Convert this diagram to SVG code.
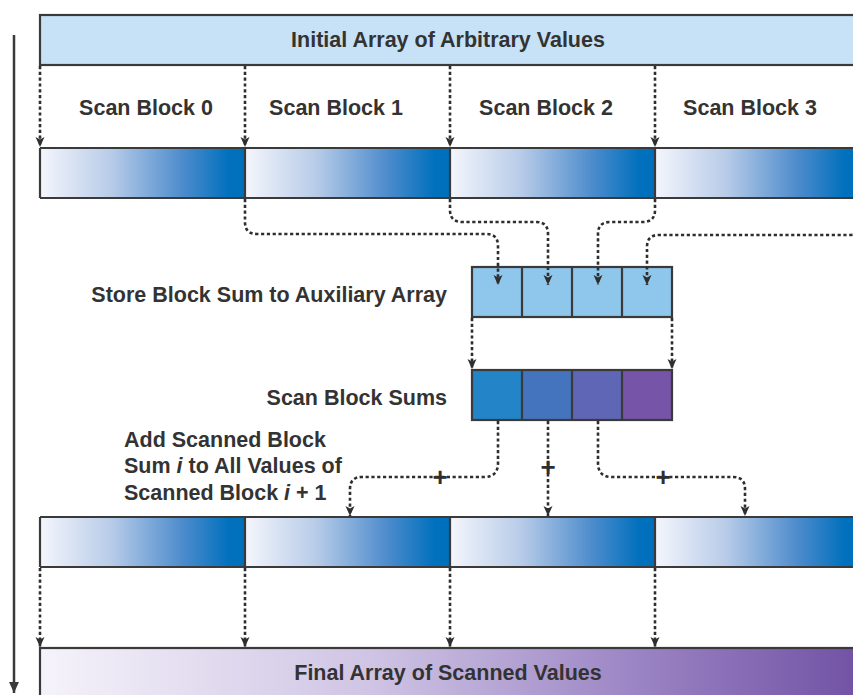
<svg xmlns="http://www.w3.org/2000/svg" width="853" height="695" viewBox="0 0 853 695">
  <defs>
    <linearGradient id="blockFill" x1="0" y1="0" x2="1" y2="0">
      <stop offset="0" stop-color="#f4f6fc"/>
      <stop offset="0.35" stop-color="#b7cbe8"/>
      <stop offset="0.7" stop-color="#4b8bcc"/>
      <stop offset="0.92" stop-color="#0271bd"/>
      <stop offset="1" stop-color="#006fbb"/>
    </linearGradient>
    <linearGradient id="finalFill" x1="0" y1="0" x2="1" y2="0">
      <stop offset="0" stop-color="#f5f3fa"/>
      <stop offset="0.4" stop-color="#cfc4e4"/>
      <stop offset="0.7" stop-color="#9e88c6"/>
      <stop offset="1" stop-color="#6f4fa3"/>
    </linearGradient>
    <marker id="tip" viewBox="0 0 10 10" refX="10" refY="5" markerUnits="userSpaceOnUse" markerWidth="10" markerHeight="10" orient="auto">
      <path d="M0,0.5 L10,5 L0,9.5 L2.5,5 z" fill="#2e2e2e"/>
    </marker>
    <marker id="bigTip" viewBox="0 0 10 10" refX="10" refY="5" markerUnits="userSpaceOnUse" markerWidth="11" markerHeight="11" orient="auto">
      <path d="M0,0.5 L10,5 L0,9.5 z" fill="#3a3a3a"/>
    </marker>
  </defs>
  <style>
    .lbl { font-family: "Liberation Sans", Arial, sans-serif; font-weight: bold; font-size: 21.5px; fill: #333333; }
    .plus { font-family: "Liberation Sans", Arial, sans-serif; font-weight: bold; font-size: 26px; fill: #2e2e2e; text-anchor: middle; }
    .edge { fill: none; stroke: #3a3a3a; stroke-width: 2.2; }
    .dot { fill: none; stroke: #2e2e2e; stroke-width: 2.6; stroke-dasharray: 3.2 2.6; marker-end: url(#tip); }
    .blk { fill: url(#blockFill); }
  </style>

  <rect width="853" height="695" fill="#ffffff"/>

  <!-- time axis running down the left side -->
  <g id="time-axis">
    <line x1="14" y1="35" x2="14" y2="693" stroke="#3a3a3a" stroke-width="2.5" marker-end="url(#bigTip)"/>
  </g>

  <!-- input array -->
  <g id="initial-array">
    <rect x="40" y="15" width="830" height="50" fill="#c7e2f6"/>
    <rect x="40" y="15" width="830" height="50" class="edge"/>
    <text class="lbl" x="448" y="47" text-anchor="middle">Initial Array of Arbitrary Values</text>
  </g>

  <!-- per-block scans -->
  <g id="scan-block-0">
    <rect class="blk" x="40" y="148" width="205" height="50"/>
    <text class="lbl" x="146" y="115" text-anchor="middle">Scan Block 0</text>
  </g>
  <g id="scan-block-1">
    <rect class="blk" x="245" y="148" width="205" height="50"/>
    <text class="lbl" x="336" y="115" text-anchor="middle">Scan Block 1</text>
  </g>
  <g id="scan-block-2">
    <rect class="blk" x="450" y="148" width="205" height="50"/>
    <text class="lbl" x="546" y="115" text-anchor="middle">Scan Block 2</text>
  </g>
  <g id="scan-block-3">
    <rect class="blk" x="655" y="148" width="205" height="50"/>
    <text class="lbl" x="750" y="115" text-anchor="middle">Scan Block 3</text>
  </g>
  <g id="scanned-row-frame">
    <path class="edge" d="M40,148 H870 M40,198 H870 M40,148 V198 M245,148 V198 M450,148 V198 M655,148 V198"/>
  </g>

  <!-- auxiliary array of block sums -->
  <g id="aux-array">
    <rect x="472" y="267" width="200" height="50" fill="#8fc6ec"/>
    <rect x="472" y="267" width="200" height="50" class="edge"/>
    <path class="edge" d="M522,267 V317 M572,267 V317 M622,267 V317"/>
    <text class="lbl" x="447" y="302" text-anchor="end">Store Block Sum to Auxiliary Array</text>
  </g>

  <!-- scanned block sums -->
  <g id="block-sums">
    <rect x="472" y="370" width="50" height="50" fill="#2385c7"/>
    <rect x="522" y="370" width="50" height="50" fill="#4574be"/>
    <rect x="572" y="370" width="50" height="50" fill="#5f66b6"/>
    <rect x="622" y="370" width="50" height="50" fill="#7654a7"/>
    <rect x="472" y="370" width="200" height="50" class="edge"/>
    <path class="edge" d="M522,370 V420 M572,370 V420 M622,370 V420"/>
    <text class="lbl" x="447" y="405" text-anchor="end">Scan Block Sums</text>
  </g>

  <g id="add-note">
    <text class="lbl" x="124" y="447">Add Scanned Block</text>
    <text class="lbl" x="124" y="473">Sum <tspan font-style="italic">i</tspan> to All Values of</text>
    <text class="lbl" x="124" y="500">Scanned Block <tspan font-style="italic">i</tspan> + 1</text>
  </g>

  <!-- blocks after adding the sums -->
  <g id="updated-block-0"><rect class="blk" x="40" y="517" width="205" height="50"/></g>
  <g id="updated-block-1"><rect class="blk" x="245" y="517" width="205" height="50"/></g>
  <g id="updated-block-2"><rect class="blk" x="450" y="517" width="205" height="50"/></g>
  <g id="updated-block-3"><rect class="blk" x="655" y="517" width="205" height="50"/></g>
  <g id="updated-row-frame">
    <path class="edge" d="M40,517 H870 M40,567 H870 M40,517 V567 M245,517 V567 M450,517 V567 M655,517 V567"/>
  </g>

  <!-- output array -->
  <g id="final-array">
    <rect x="40" y="648" width="830" height="60" fill="url(#finalFill)"/>
    <rect x="40" y="648" width="830" height="60" class="edge"/>
    <text class="lbl" x="448" y="680" text-anchor="middle">Final Array of Scanned Values</text>
  </g>

  <!-- dotted data-flow connectors -->
  <g id="connectors">
    <path class="dot" d="M40,66 V147"/>
    <path class="dot" d="M245,66 V147"/>
    <path class="dot" d="M450,66 V147"/>
    <path class="dot" d="M655,66 V147"/>

    <path class="dot" d="M245,199 V222 Q245,234 257,234 H486 Q498,234 498,246 V285"/>
    <path class="dot" d="M450,199 V210 Q450,222 462,222 H536 Q548,222 548,234 V285"/>
    <path class="dot" d="M655,199 V210 Q655,222 643,222 H610 Q598,222 598,234 V285"/>
    <path class="dot" d="M862,199 V222 Q862,235 849,235 H659 Q647,235 647,247 V285"/>

    <path class="dot" d="M472,318 V369"/>
    <path class="dot" d="M672,318 V369"/>

    <path class="dot" d="M498,421 V463 Q498,477 484,477 H362 Q350,477 350,489 V516"/>
    <path class="dot" d="M548,421 V516"/>
    <path class="dot" d="M598,421 V463 Q598,477 612,477 H733 Q745,477 745,489 V516"/>

    <path class="dot" d="M40,568 V647"/>
    <path class="dot" d="M245,568 V647"/>
    <path class="dot" d="M450,568 V647"/>
    <path class="dot" d="M655,568 V647"/>

    <text class="plus" x="440" y="486">+</text>
    <text class="plus" x="548" y="476">+</text>
    <text class="plus" x="663" y="486">+</text>
  </g>
</svg>
